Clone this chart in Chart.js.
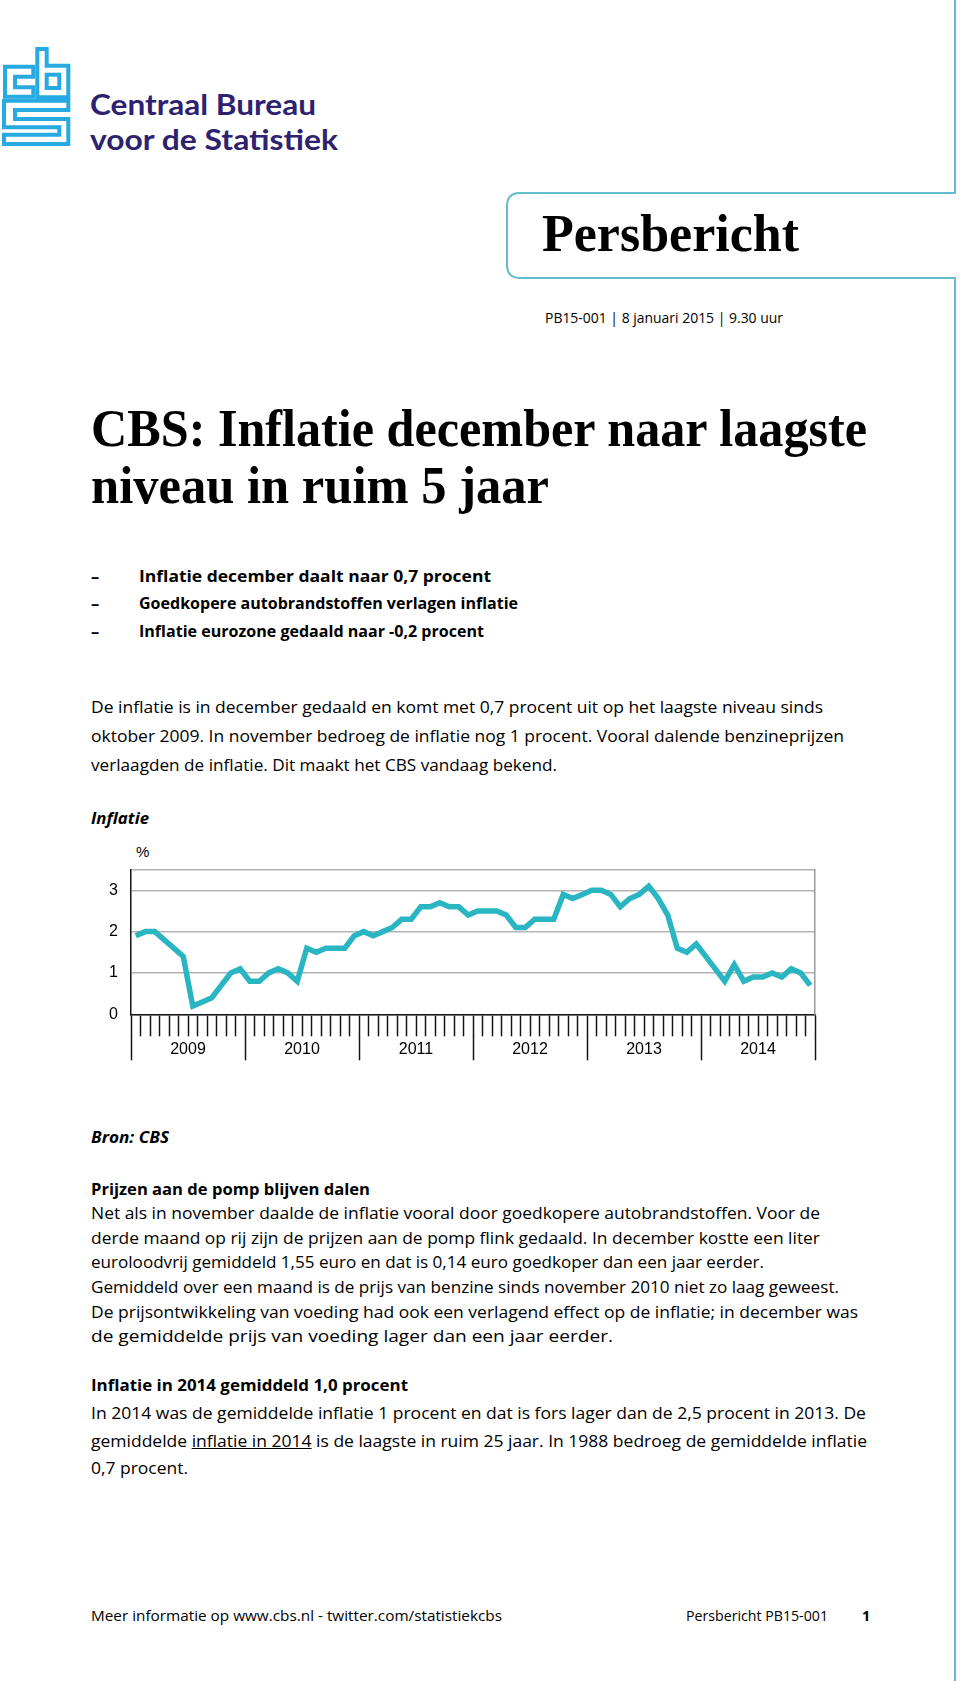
<!DOCTYPE html>
<html lang="nl">
<head>
<meta charset="utf-8">
<title>CBS: Inflatie december naar laagste niveau in ruim 5 jaar</title>
<script src="https://cdn.jsdelivr.net/npm/chart.js@4.4.1/dist/chart.umd.min.js"></script>
<style>
html, body { margin: 0; padding: 0; background: #fff; }
body { position: relative; width: 960px; height: 1681px; overflow: hidden; font-family: 'Open Sans', sans-serif; color: #000; }
.ln { position: absolute; white-space: nowrap; line-height: 1; transform-origin: 0 0; }
.body { font-size: 16.5px; }
.small { font-size: 14.5px; }
.b { font-weight: 700; }
.bi { font-weight: 700; font-style: italic; }
.serif { font-family: 'Liberation Serif', serif; font-weight: 700; }
.logo { font-family: Lato, sans-serif; font-weight: 700; font-size: 29px; color: #2d2270; }
.u { text-decoration: underline; }
#frame { position: absolute; left: 0; top: 0; }
#chartBox { position: absolute; left: 91px; top: 847px; width: 735px; height: 225px; }
</style>
</head>
<body>

<svg id="frame" width="960" height="1681" viewBox="0 0 960 1681">
    <!-- cbs logo -->
    <g fill="none" stroke="#27a9e1" stroke-width="4" stroke-linejoin="miter">
        <path d="M33.3,66.7 H5 V96.7 H33.3 V87.3 H15 V76.7 H33.3 Z"/>
        <path d="M37.3,49 H46.7 V65.7 H68.3 V97.3 H37.3 Z"/>
        <rect x="46.7" y="74.7" width="12.6" height="13.3"/>
        <path d="M4,100.7 H68.3 V110 H15 V119 H68.3 V144 H4 V134.7 H59.3 V127.3 H4 Z"/>
    </g>
    <!-- persbericht tab -->
    <path d="M955,0 V193 H520 Q507,193 507,206 V265 Q507,278 520,278 H955 V1681" fill="none" stroke="#63bccb" stroke-width="2"/>
</svg>

<div class="ln logo" data-x="90" data-b="115" data-w="226">Centraal Bureau</div>
<div class="ln logo" data-x="90" data-b="150" data-w="248">voor de Statistiek</div>

<div class="ln serif" style="font-size:52px" data-x="542" data-b="251" data-w="257">Persbericht</div>
<div class="ln small" data-x="545" data-b="323" data-w="238">PB15-001 | 8 januari 2015 | 9.30 uur</div>

<div class="ln serif" style="font-size:53px" data-x="91" data-b="446" data-w="776">CBS: Inflatie december naar laagste</div>
<div class="ln serif" style="font-size:53px" data-x="91" data-b="503" data-w="458">niveau in ruim 5 jaar</div>

<div class="ln body b" data-x="91" data-b="582">&ndash;</div>
<div class="ln body b" data-x="139" data-b="582" data-w="352">Inflatie december daalt naar 0,7 procent</div>
<div class="ln body b" data-x="91" data-b="609">&ndash;</div>
<div class="ln body b" data-x="139" data-b="609" data-w="379">Goedkopere autobrandstoffen verlagen inflatie</div>
<div class="ln body b" data-x="91" data-b="637">&ndash;</div>
<div class="ln body b" data-x="139" data-b="637" data-w="345">Inflatie eurozone gedaald naar -0,2 procent</div>

<div class="ln body" data-x="91" data-b="713" data-w="732">De inflatie is in december gedaald en komt met 0,7 procent uit op het laagste niveau sinds</div>
<div class="ln body" data-x="91" data-b="742" data-w="753">oktober 2009. In november bedroeg de inflatie nog 1 procent. Vooral dalende benzineprijzen</div>
<div class="ln body" data-x="91" data-b="771" data-w="466">verlaagden de inflatie. Dit maakt het CBS vandaag bekend.</div>

<div class="ln body bi" data-x="91" data-b="824" data-w="58">Inflatie</div>
<div class="ln" style="font-family:'Liberation Sans';font-size:15px" data-x="136" data-b="857">%</div>

<div id="chartBox"><canvas id="inflatie" width="735" height="225"></canvas></div>

<div class="ln body bi" data-x="91" data-b="1143" data-w="78">Bron: CBS</div>

<div class="ln body b" data-x="91" data-b="1195" data-w="279">Prijzen aan de pomp blijven dalen</div>
<div class="ln body" data-x="91" data-b="1219" data-w="729">Net als in november daalde de inflatie vooral door goedkopere autobrandstoffen. Voor de</div>
<div class="ln body" data-x="91" data-b="1244" data-w="729">derde maand op rij zijn de prijzen aan de pomp flink gedaald. In december kostte een liter</div>
<div class="ln body" data-x="91" data-b="1268" data-w="673">euroloodvrij gemiddeld 1,55 euro en dat is 0,14 euro goedkoper dan een jaar eerder.</div>
<div class="ln body" data-x="91" data-b="1293" data-w="748">Gemiddeld over een maand is de prijs van benzine sinds november 2010 niet zo laag geweest.</div>
<div class="ln body" data-x="91" data-b="1318" data-w="767">De prijsontwikkeling van voeding had ook een verlagend effect op de inflatie; in december was</div>
<div class="ln body" data-x="91" data-b="1342" data-w="522">de gemiddelde prijs van voeding lager dan een jaar eerder.</div>

<div class="ln body b" data-x="91" data-b="1391" data-w="317">Inflatie in 2014 gemiddeld 1,0 procent</div>
<div class="ln body" data-x="91" data-b="1419" data-w="775">In 2014 was de gemiddelde inflatie 1 procent en dat is fors lager dan de 2,5 procent in 2013. De</div>
<div class="ln body" data-x="91" data-b="1447" data-w="776">gemiddelde <span class="u">inflatie in 2014</span> is de laagste in ruim 25 jaar. In 1988 bedroeg de gemiddelde inflatie</div>
<div class="ln body" data-x="91" data-b="1474" data-w="97">0,7 procent.</div>

<div class="ln small" data-x="91" data-b="1621" data-w="411">Meer informatie op www.cbs.nl - twitter.com/statistiekcbs</div>
<div class="ln small" data-x="686" data-b="1621" data-w="142">Persbericht PB15-001</div>
<div class="ln small b" data-x="862" data-b="1621">1</div>

<script>
'use strict';

// chart data, read from the CBS press release
var years = [ '2009', '2010', '2011', '2012', '2013', '2014' ];
var monthNames = [ 'jan', 'feb', 'mrt', 'apr', 'mei', 'jun', 'jul', 'aug', 'sep', 'okt', 'nov', 'dec' ];
var inflatie2009 = [ 1.9, 2.0, 2.0, 1.8, 1.6, 1.4, 0.2, 0.3, 0.4, 0.7, 1.0, 1.1 ];
var inflatie2010 = [ 0.8, 0.8, 1.0, 1.1, 1.0, 0.8, 1.6, 1.5, 1.6, 1.6, 1.6, 1.9 ];
var inflatie2011 = [ 2.0, 1.9, 2.0, 2.1, 2.3, 2.3, 2.6, 2.6, 2.7, 2.6, 2.6, 2.4 ];
var inflatie2012 = [ 2.5, 2.5, 2.5, 2.4, 2.1, 2.1, 2.3, 2.3, 2.3, 2.9, 2.8, 2.9 ];
var inflatie2013 = [ 3.0, 3.0, 2.9, 2.6, 2.8, 2.9, 3.1, 2.8, 2.4, 1.6, 1.5, 1.7 ];
var inflatie2014 = [ 1.4, 1.1, 0.8, 1.2, 0.8, 0.9, 0.9, 1.0, 0.9, 1.1, 1.0, 0.7 ];
var yTicks = [ 0, 1, 2, 3 ];
var yMax = 3.5;

// put every text line on its baseline and stretch it to the measured width
function placeLines() {
    document.querySelectorAll( '.ln' ).forEach( function( el ) {
        el.style.transform = '';
        el.style.left = el.getAttribute( 'data-x' ) + 'px';
        el.style.top = '0px';
        var probe = document.createElement( 'span' );
        probe.style.cssText = 'display:inline-block;width:0;height:0;vertical-align:baseline';
        el.appendChild( probe );
        var base = probe.offsetTop;
        el.removeChild( probe );
        el.style.top = ( parseFloat( el.getAttribute( 'data-b' ) ) - base ) + 'px';
        var target = el.getAttribute( 'data-w' );
        if( target ) {
            var w = el.getBoundingClientRect().width;
            el.style.transform = 'scaleX(' + ( parseFloat( target ) / w ).toFixed( 4 ) + ')';
        }
    });
}

var InflatieChart = function( canvasId ) {
    this._canvas = document.getElementById( canvasId );
    this._lineColor = '#29b6c2';
    this._axisColor = '#151515';
    this._gridColor = '#b3b3b3';
    this._frameColor = '#9a9a9a';
    this._font = { family: "'Liberation Sans', Arial, sans-serif", size: 16 };
};

InflatieChart.prototype = {
    labels: function() {
        var labels = [];
        years.forEach( function( year ) {
            monthNames.forEach( function( m ) {
                labels.push( m + ' ' + year );
            });
        });
        return labels;
    },
    values: function() {
        return [].concat( inflatie2009, inflatie2010, inflatie2011, inflatie2012, inflatie2013, inflatie2014 );
    },
    render: function() {
        var self = this;
        return new Chart( this._canvas.getContext( '2d' ), {
            type: 'line',
            data: {
                labels: self.labels(),
                datasets: [{
                    label: 'Inflatie',
                    data: self.values(),
                    borderColor: self._lineColor,
                    borderWidth: 5.5,
                    borderJoinStyle: 'miter',
                    pointRadius: 0,
                    pointHoverRadius: 0,
                    tension: 0,
                    fill: false,
                }],
            },
            options: {
                responsive: false,
                animation: false,
                devicePixelRatio: 1,
                layout: { padding: { top: 0, right: 11, bottom: 9.7, left: 0 } },
                plugins: {
                    legend: { display: false },
                    tooltip: { enabled: false },
                },
                scales: {
                    // months: short ticks between the months
                    x: {
                        type: 'category',
                        position: 'bottom',
                        offset: true,
                        weight: 0,
                        afterFit: function( scale ) { scale.height = 22; },
                        grid: {
                            offset: true,
                            drawOnChartArea: false,
                            tickLength: 22,
                            tickColor: self._axisColor,
                            tickWidth: 1.5,
                        },
                        border: { color: self._axisColor, width: 1.5 },
                        ticks: { display: false, autoSkip: false },
                    },
                    // years: long ticks with the year in between
                    jaar: {
                        type: 'category',
                        labels: years,
                        position: 'bottom',
                        offset: true,
                        weight: 1,
                        afterFit: function( scale ) { scale.height = 26; },
                        grid: {
                            offset: true,
                            drawOnChartArea: false,
                            tickLength: 24,
                            tickColor: self._axisColor,
                            tickWidth: 1.5,
                        },
                        border: { display: false },
                        ticks: {
                            autoSkip: false,
                            maxRotation: 0,
                            padding: -20,
                            color: '#000',
                            font: self._font,
                        },
                    },
                    y: {
                        min: 0,
                        max: yMax,
                        afterFit: function( scale ) { scale.width = 40; },
                        afterBuildTicks: function( scale ) {
                            scale.ticks = yTicks.concat( [ yMax ] ).map( function( v ) { return { value: v }; });
                        },
                        grid: { drawTicks: false, color: self._gridColor, lineWidth: 1.5 },
                        border: { color: self._axisColor, width: 1.5 },
                        ticks: {
                            padding: 13,
                            color: '#000',
                            font: self._font,
                            callback: function( v ) { return yTicks.indexOf( v ) >= 0 ? String( v ) : ''; },
                        },
                    },
                    rechts: {
                        position: 'right',
                        min: 0,
                        max: yMax,
                        afterFit: function( scale ) { scale.width = 0; },
                        grid: { drawOnChartArea: false, drawTicks: false },
                        border: { color: self._frameColor, width: 1.5 },
                        ticks: { display: false },
                    },
                },
            },
        });
    },
};

placeLines();
new InflatieChart( 'inflatie' ).render();
if( document.fonts && document.fonts.ready ) {
    document.fonts.ready.then( placeLines );
}
</script>
</body>
</html>
